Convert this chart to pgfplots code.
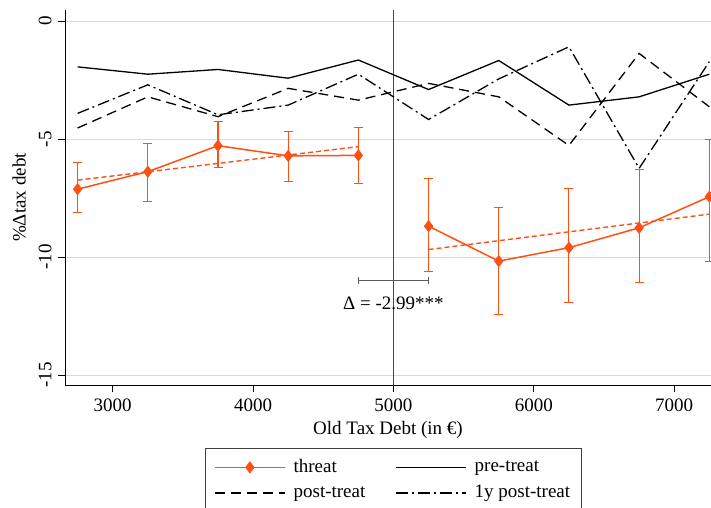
\documentclass[border=0pt]{standalone}
\usepackage{fontspec}
\setmainfont{Liberation Serif}
\usepackage{pgfplots}
\pgfplotsset{compat=1.18}
\definecolor{thr}{RGB}{255,80,20}
\pgfplotstableread{
x y ep em
2750 -7.12 1.12 1.00
3250 -6.38 1.20 1.28
3750 -5.28 1.01 0.92
4250 -5.71 1.05 1.10
4750 -5.69 1.19 1.19
}\threatL
\pgfplotstableread{
x y ep em
5250 -8.69 2.02 1.93
5750 -10.17 2.26 2.26
6250 -9.60 2.51 2.33
6750 -8.76 2.48 2.33
7250 -7.44 2.44 2.73
}\threatR
\pgfplotstableread{
x pre post oney
2750 -1.94 -4.53 -3.91
3250 -2.25 -3.21 -2.70
3750 -2.05 -4.05 -3.97
4250 -2.42 -2.85 -3.56
4750 -1.65 -3.35 -2.25
5250 -2.90 -2.64 -4.17
5750 -1.67 -3.21 -2.45
6250 -3.56 -5.27 -1.09
6750 -3.21 -1.37 -6.24
7250 -2.25 -3.63 -1.72
}\others
\begin{document}
\fontsize{19}{22}\selectfont
\begin{tikzpicture}
\begin{axis}[
 scale only axis, width=646pt, height=375pt,
 xmin=2660, xmax=7262, ymin=-15.42, ymax=0.47,
 axis x line*=bottom, axis y line*=left,
 axis line style={line width=0.8pt},
 xtick={3000,4000,5000,6000,7000}, ytick={-15,-10,-5,0},
 tick align=outside, major tick length=7pt,
 tick style={line width=0.8pt, black},
 ymajorgrids, major grid style={black!15, line width=1pt},
 /pgf/number format/assume math mode=true,
 /pgf/number format/1000 sep={},
 tick label style={font=\fontsize{19}{22}\selectfont},
 label style={font=\fontsize{19}{22}\selectfont},
 yticklabel style={rotate=90, anchor=south},
 xlabel={Old Tax Debt (in €)}, ylabel={\%Δtax debt},
 xlabel style={yshift=3pt},
 legend columns=2,
 legend style={at={(0.508,-0.168)}, anchor=north, draw=black!75, line width=0.8pt,
   font=\fontsize{19}{22}\selectfont, inner xsep=9pt, inner ysep=9pt, row sep=6pt,
   /tikz/every odd column/.append style={column sep=6pt},
   /tikz/every even column/.append style={column sep=28pt}},
 legend cell align=left,
 legend image code/.code={\draw[mark repeat=2,mark phase=2,#1] plot coordinates {(0pt,0pt)(35pt,0pt)(70pt,0pt)};},
]
\coordinate (bl) at (rel axis cs:0,0);
\coordinate (tr) at (rel axis cs:1,1);
\addplot[black!72, line width=1.5pt, forget plot] coordinates {(5000,-15.42)(5000,0.47)};
\addplot[black!65, line width=1pt, mark=|, mark size=3.5pt, mark options={solid}, forget plot] coordinates {(4750,-11)(5250,-11)};
\node[font=\fontsize{19}{22}\selectfont] at (axis cs:5000,-11.95) {Δ = -2.99***};
\addplot[thr, line width=1.4pt, dash pattern=on 5pt off 3pt, forget plot] coordinates {(2750,-6.74)(4750,-5.32)};
\addplot[thr, line width=1.4pt, dash pattern=on 5pt off 3pt, forget plot] coordinates {(5250,-9.68)(7250,-8.18)};
\addplot[thr, line width=1.5pt, mark=diamond*, mark size=5pt,
  error bars/.cd, y dir=both, y explicit,
  error bar style={line width=1.1pt, thr},
  error mark options={rotate=90, mark size=4.5pt, line width=1.1pt, thr}]
  table[x=x, y=y, y error plus=ep, y error minus=em] {\threatL};
\addlegendentry{threat}
\addplot[black, line width=1.3pt] table[x=x, y=pre] {\others};
\addlegendentry{pre-treat}
\addplot[black, line width=1.3pt, dash pattern=on 10pt off 6pt] table[x=x, y=post] {\others};
\addlegendentry{post-treat}
\addplot[black, line width=1.3pt, dash pattern=on 12pt off 4pt on 2pt off 4pt] table[x=x, y=oney] {\others};
\addlegendentry{1y post-treat}
\addplot[thr, line width=1.5pt, mark=diamond*, mark size=5pt, forget plot,
  error bars/.cd, y dir=both, y explicit,
  error bar style={line width=1.1pt, thr},
  error mark options={rotate=90, mark size=4.5pt, line width=1.1pt, thr}]
  table[x=x, y=y, y error plus=ep, y error minus=em] {\threatR};
\end{axis}
\pgfresetboundingbox
\path ([shift={(-65pt,-122pt)}]bl) rectangle ([shift={(0pt,10pt)}]tr);
\end{tikzpicture}
\end{document}
